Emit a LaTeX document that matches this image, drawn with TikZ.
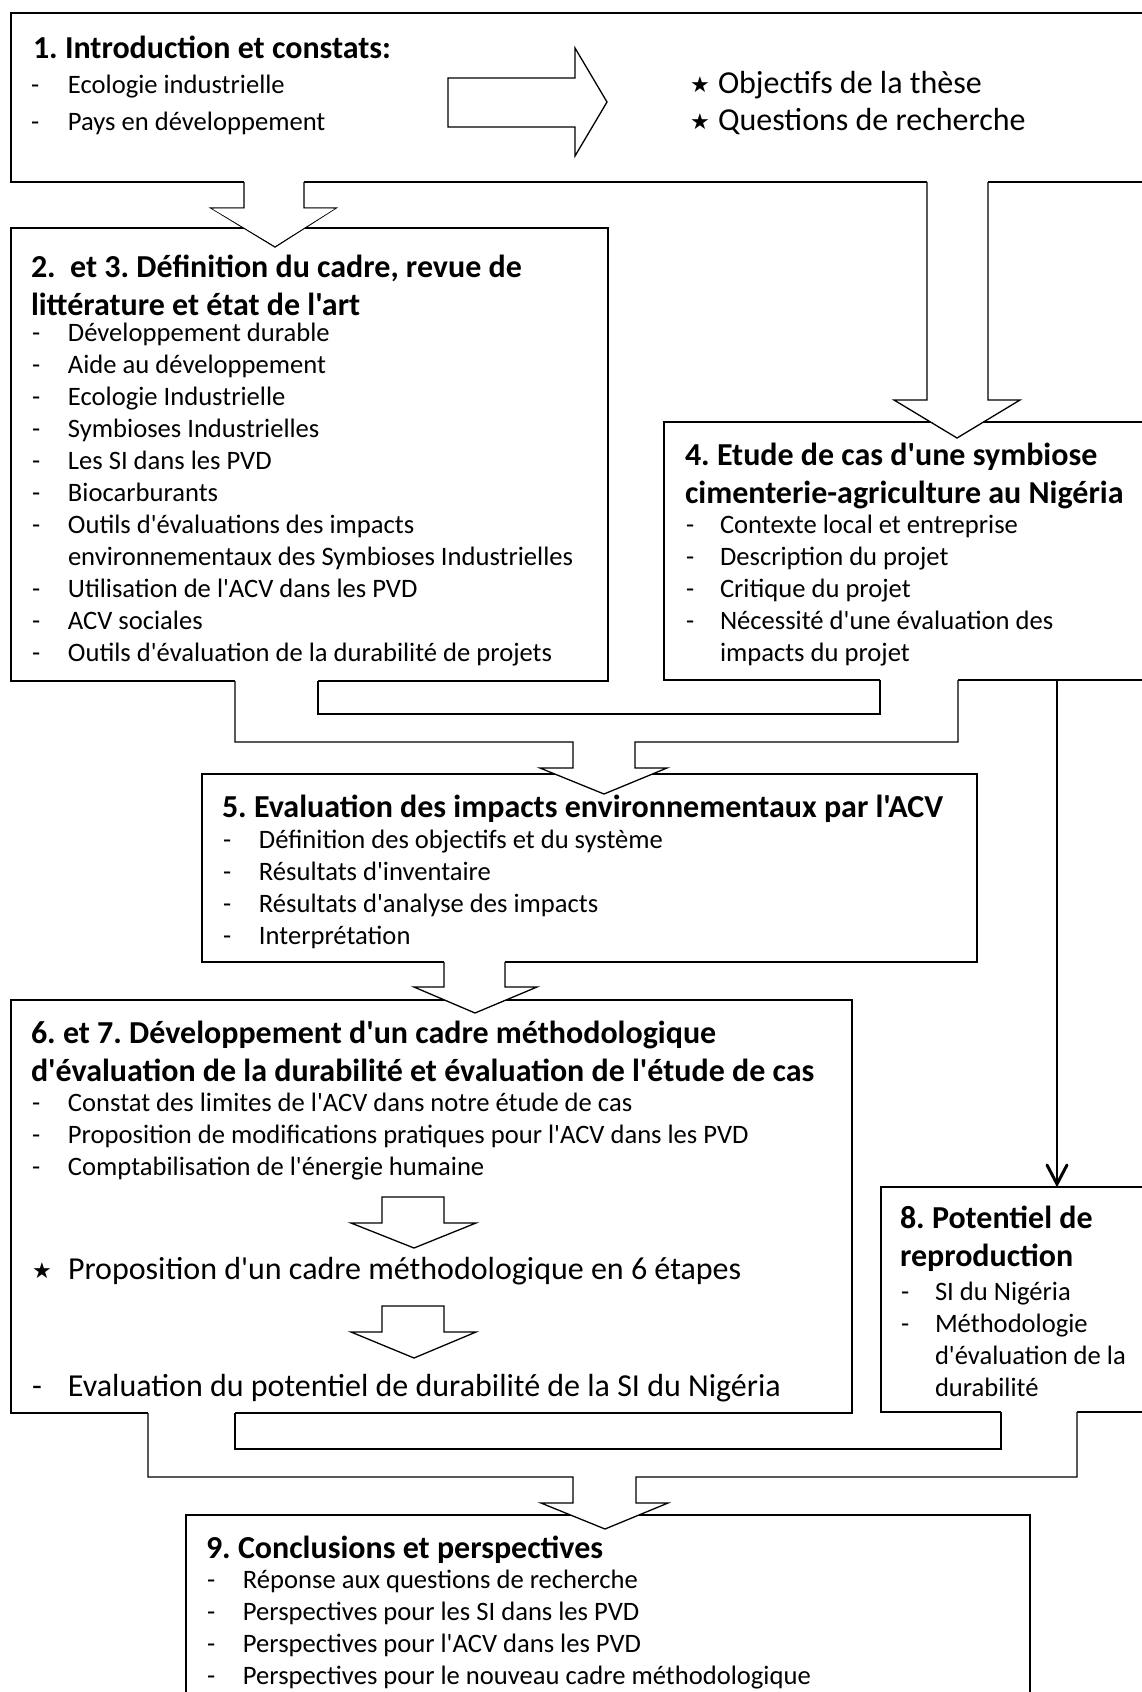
\documentclass[tikz,border=0pt]{standalone}
\usepackage{fontspec}
\setmainfont{Carlito}[Ligatures=TeXOff]
\newfontfamily\symfont{DejaVu Sans}
\usepackage{array}
\frenchspacing

% font sizes (1pt = one unit of the drawing grid)
\newcommand{\itemsize}{\fontsize{26.6}{32}\selectfont}
\newcommand{\titlesize}{\fontsize{32}{38}\selectfont\bfseries}
\newcommand{\bigsize}{\fontsize{32}{38}\selectfont}
\newcommand{\bstar}{{\symfont\fontsize{22}{22}\selectfont\raisebox{1pt}{★}}}

\tikzset{
  box/.style={draw, line width=1.8pt, anchor=north west, inner sep=0pt,
    outer sep=0pt, fill=white},
  blockarrow/.style={draw, line width=1.3pt, fill=white, line join=miter},
  outline/.style={draw, line width=1.3pt, line join=miter},
  txt/.style={anchor=base west, inner sep=0pt, outer sep=0pt, align=left},
}

\begin{document}
\begin{tikzpicture}[x=1pt, y=-1pt]
\useasboundingbox (0,0) rectangle (1142,1692);
\clip (0,0) rectangle (1142,1692);

% ---------- boxes ----------
\node[box, minimum width=1150pt, minimum height=169pt] (b1) at (11,13) {};
\node[box, minimum width=597pt,  minimum height=453pt] (b2) at (11,228) {};
\node[box, minimum width=500pt,  minimum height=258pt] (b4) at (664,422) {};
\node[box, minimum width=775pt,  minimum height=188pt] (b5) at (202,774) {};
\node[box, minimum width=841pt,  minimum height=413pt] (b6) at (11,1000) {};
\node[box, minimum width=300pt,  minimum height=225pt] (b8) at (881,1187) {};
\node[box, minimum width=844pt,  minimum height=220pt] (b9) at (186,1515) {};

% ---------- block arrows ----------
% box 1: arrow towards the objectives
\path[blockarrow] (448,78) -- (575,78) -- (575,48) -- (607,102) -- (575,156)
  -- (575,127) -- (448,127) -- cycle;

% box 1 -> box 2
\fill[white] (244,181) rectangle (304,209);
\draw[outline] (244,182) -- (244,208) -- (211,208) -- (275,247) -- (336,208)
  -- (304,208) -- (304,182);
\fill[white] (212,208.5) -- (275,246) -- (335,208.5) -- cycle;

% box 1 -> box 4
\fill[white] (927,181) rectangle (988,401);
\fill[white] (895,400.5) -- (957,437) -- (1019,400.5) -- cycle;
\draw[outline] (927,182) -- (927,400) -- (894,400) -- (957,438) -- (1020,400)
  -- (988,400) -- (988,182);

% boxes 2 and 4 -> box 5
\fill[white] (235,680) -- (235,742) -- (573,742) -- (573,768) -- (540,768)
  -- (604,794) -- (667,768) -- (635,768) -- (635,742) -- (958,742)
  -- (958,679) -- (880,679) -- (880,714) -- (318,714) -- (318,680) -- cycle;
\draw[outline] (235,681) -- (235,742) -- (573,742) -- (573,768) -- (540,768)
  -- (604,794) -- (667,768) -- (635,768) -- (635,742) -- (958,742) -- (958,680);
\draw[outline] (318,681) -- (318,714) -- (880,714) -- (880,680);

% box 5 -> box 6
\fill[white] (444,961) rectangle (505,988);
\fill[white] (415,987.5) -- (475,1012) -- (536,987.5) -- cycle;
\draw[outline] (444,962) -- (444,987) -- (414,987) -- (475,1013) -- (537,987)
  -- (505,987) -- (505,962);

% arrows inside box 6
\path[blockarrow] (382,1197) -- (444,1197) -- (444,1223) -- (476,1223)
  -- (414,1248) -- (351,1223) -- (382,1223) -- cycle;
\path[blockarrow] (382,1306) -- (444,1306) -- (444,1332) -- (476,1332)
  -- (414,1358) -- (351,1332) -- (382,1332) -- cycle;

% boxes 6 and 8 -> box 9
\fill[white] (148,1412) -- (148,1477) -- (573,1477) -- (573,1503) -- (541,1503)
  -- (605,1529) -- (668,1503) -- (636,1503) -- (636,1477) -- (1077,1477)
  -- (1077,1411) -- (1001,1411) -- (1001,1449) -- (235,1449) -- (235,1412) -- cycle;
\draw[outline] (148,1413) -- (148,1477) -- (573,1477) -- (573,1503) -- (541,1503)
  -- (605,1529) -- (668,1503) -- (636,1503) -- (636,1477) -- (1077,1477)
  -- (1077,1412);
\draw[outline] (235,1413) -- (235,1449) -- (1001,1449) -- (1001,1412);

% box 4 -> box 8 (plain line with open head)
\coordinate (l48) at (1057,680);
\draw[line width=1.3pt] (l48) -- (1057,1185);
\draw[line width=3pt, line cap=round, line join=miter] (1047,1165) -- (1057,1184) -- (1067,1165);

% ---------- texts ----------
% box 1
\node[txt, font=\titlesize] (t1) at (33,58) {1. Introduction et constats:};
\node[txt, font=\itemsize] (i1) at (31,93) {\begin{tabular}[t]{@{}p{37pt}@{}l@{}}
-&Ecologie industrielle\\[5pt]
-&Pays en développement
\end{tabular}};
\node[txt, font=\bigsize] (obj) at (690,93) {\begin{tabular}[t]{@{}p{28pt}@{}l@{}}
\bstar&Objectifs de la thèse\\[-1pt]
\bstar&Questions de recherche
\end{tabular}};

% box 2
\node[txt, font=\titlesize] (t2) at (31,277) {\begin{tabular}[t]{@{}l@{}}
2.\ \ et 3. Définition du cadre, revue de\\
littérature et état de l'art
\end{tabular}};
\node[txt, font=\itemsize] (i2) at (32,341) {\begin{tabular}[t]{@{}p{36pt}@{}l@{}}
-&Développement durable\\
-&Aide au développement\\
-&Ecologie Industrielle\\
-&Symbioses Industrielles\\
-&Les SI dans les PVD\\
-&Biocarburants\\
-&Outils d'évaluations des impacts\\
&environnementaux des Symbioses Industrielles\\
-&Utilisation de l'ACV dans les PVD\\
-&ACV sociales\\
-&Outils d'évaluation de la durabilité de projets
\end{tabular}};

% box 4
\node[txt, font=\titlesize] (t4) at (685,465) {\begin{tabular}[t]{@{}l@{}}
4. Etude de cas d'une symbiose\\
cimenterie-agriculture au Nigéria
\end{tabular}};
\node[txt, font=\itemsize] (i4) at (686,533) {\begin{tabular}[t]{@{}p{34pt}@{}l@{}}
-&Contexte local et entreprise\\
-&Description du projet\\
-&Critique du projet\\
-&Nécessité d'une évaluation des\\
&impacts du projet
\end{tabular}};

% box 5
\node[txt, font=\titlesize] (t5) at (222,817) {5. Evaluation des impacts environnementaux par l'ACV};
\node[txt, font=\itemsize] (i5) at (223,848) {\begin{tabular}[t]{@{}p{36pt}@{}l@{}}
-&Définition des objectifs et du système\\
-&Résultats d'inventaire\\
-&Résultats d'analyse des impacts\\
-&Interprétation
\end{tabular}};

% box 6
\node[txt, font=\titlesize] (t6) at (31,1043) {\begin{tabular}[t]{@{}l@{}}
6. et 7. Développement d'un cadre méthodologique\\
d'évaluation de la durabilité et évaluation de l'étude de cas
\end{tabular}};
\node[txt, font=\itemsize] (i6) at (32,1111) {\begin{tabular}[t]{@{}p{36pt}@{}l@{}}
-&Constat des limites de l'ACV dans notre étude de cas\\
-&Proposition de modifications pratiques pour l'ACV dans les PVD\\
-&Comptabilisation de l'énergie humaine
\end{tabular}};
\node[txt, font=\bigsize] (p6) at (32,1279) {\begin{tabular}[t]{@{}p{36pt}@{}l@{}}
\bstar&Proposition d'un cadre méthodologique en 6 étapes
\end{tabular}};
\node[txt, font=\bigsize] (e6) at (32,1396) {\begin{tabular}[t]{@{}p{36pt}@{}l@{}}
-&Evaluation du potentiel de durabilité de la SI du Nigéria
\end{tabular}};

% box 8
\node[txt, font=\titlesize] (t8) at (900,1228) {\begin{tabular}[t]{@{}l@{}}
8. Potentiel de\\
reproduction
\end{tabular}};
\node[txt, font=\itemsize] (i8) at (901,1300) {\begin{tabular}[t]{@{}p{34pt}@{}l@{}}
-&SI du Nigéria\\
-&Méthodologie\\
&d'évaluation de la\\
&durabilité
\end{tabular}};

% box 9
\node[txt, font=\titlesize] (t9) at (206,1558) {9. Conclusions et perspectives};
\node[txt, font=\itemsize] (i9) at (207,1588) {\begin{tabular}[t]{@{}p{36pt}@{}l@{}}
-&Réponse aux questions de recherche\\
-&Perspectives pour les SI dans les PVD\\
-&Perspectives pour l'ACV dans les PVD\\
-&Perspectives pour le nouveau cadre méthodologique
\end{tabular}};
\end{tikzpicture}
\end{document}
